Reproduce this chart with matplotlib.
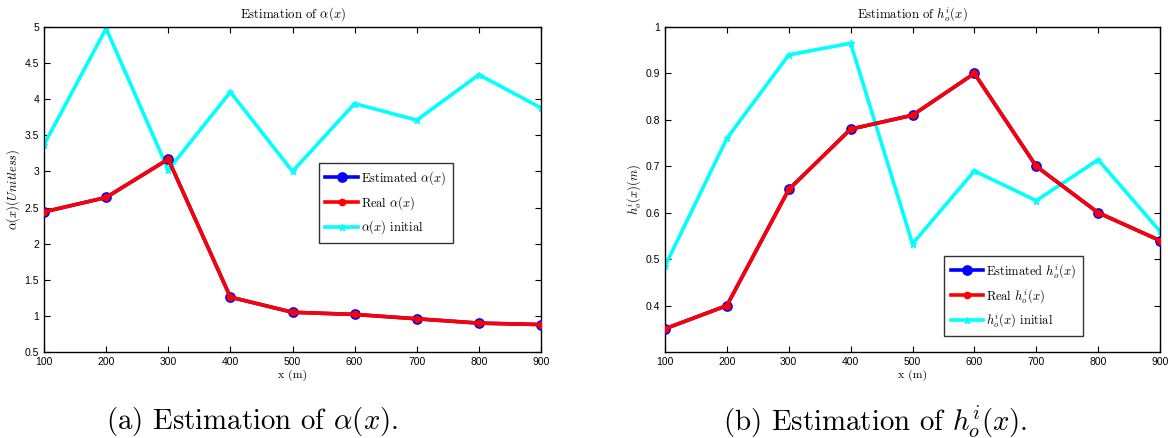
import matplotlib
matplotlib.use("Agg")
import matplotlib.pyplot as plt

plt.rcParams['mathtext.fontset'] = 'cm'
plt.rcParams['font.family'] = ['Liberation Sans', 'DejaVu Sans']

x = [100, 200, 300, 400, 500, 600, 700, 800, 900]
alpha_est = [2.44, 2.64, 3.17, 1.26, 1.05, 1.02, 0.96, 0.90, 0.88]
alpha_real = [2.44, 2.64, 3.17, 1.26, 1.05, 1.02, 0.96, 0.90, 0.88]
alpha_init = [3.37, 4.98, 3.02, 4.10, 3.00, 3.94, 3.71, 4.34, 3.88]

h_est = [0.35, 0.40, 0.65, 0.78, 0.81, 0.90, 0.70, 0.60, 0.54]
h_real = [0.35, 0.40, 0.65, 0.78, 0.81, 0.90, 0.70, 0.60, 0.54]
h_init = [0.485, 0.76, 0.94, 0.965, 0.533, 0.69, 0.626, 0.714, 0.56]

alpha_yticks = [0.5, 1, 1.5, 2, 2.5, 3, 3.5, 4, 4.5, 5]
alpha_yticklabels = ['0.5', '1', '1.5', '2', '2.5', '3', '3.5', '4', '4.5', '5']
h_yticks = [0.4, 0.5, 0.6, 0.7, 0.8, 0.9, 1.0]
h_yticklabels = ['0.4', '0.5', '0.6', '0.7', '0.8', '0.9', '1']

fig = plt.figure(figsize=(11.68, 4.38), dpi=100)
ax1 = fig.add_axes([44/1168, 1-352/438, 497/1168, 325/438])
ax2 = fig.add_axes([665/1168, 1-352/438, 495/1168, 325/438])

serif = 'cmr10'

def style(ax):
    ax.tick_params(direction='in', top=True, right=True, labelsize=7.5, length=4, width=0.8)
    for s in ax.spines.values():
        s.set_linewidth(1.0)
    ax.set_xlim(100, 900)
    ax.set_xticks(x)
    ax.set_xlabel('x (m)', fontfamily=serif, fontsize=8.5, labelpad=2)

leg_kw = dict(frameon=True, fancybox=False, edgecolor='black', borderpad=0.5, labelspacing=0.55,
              handlelength=2.6, handletextpad=0.25, prop={'family': serif, 'size': 9})

# Left
ax1.plot(x, alpha_est, color='blue', lw=2.6, marker='o', ms=6.5, mfc='blue', mec='blue', mew=1.2, zorder=3,
         label=r'Estimated $\alpha(x)$')
ax1.plot(x, alpha_real, color='red', lw=2.6, marker='o', ms=4.5, mfc='red', mec='red', zorder=4,
         label=r'Real $\alpha(x)$')
ax1.plot(x, alpha_init, color='cyan', lw=2.6, marker='*', ms=5, mfc='cyan', mec='cyan', zorder=2,
         label=r'$\alpha(x)$ initial')
style(ax1)
ax1.set_ylim(0.5, 5)
ax1.set_yticks(alpha_yticks)
ax1.set_yticklabels(alpha_yticklabels)
ax1.set_title(r'Estimation of $\alpha(x)$', fontfamily=serif, fontsize=9.2, pad=7)
ax1.set_ylabel(r'$\alpha(x)(Unitless)$', fontsize=9, labelpad=2)
leg1 = ax1.legend(loc='upper left', bbox_to_anchor=(0.541, 0.6), **leg_kw)
leg1.get_frame().set_linewidth(1.0)

# Right
ax2.plot(x, h_est, color='blue', lw=2.6, marker='o', ms=6.5, mfc='blue', mec='blue', mew=1.2, zorder=3,
         label=r'Estimated $h_o^i(x)$')
ax2.plot(x, h_real, color='red', lw=2.6, marker='o', ms=4.5, mfc='red', mec='red', zorder=4,
         label=r'Real $h_o^i(x)$')
ax2.plot(x, h_init, color='cyan', lw=2.6, marker='*', ms=5, mfc='cyan', mec='cyan', zorder=2,
         label=r'$h_o^i(x)$ initial')
style(ax2)
ax2.set_ylim(0.3, 1.0)
ax2.set_yticks(h_yticks)
ax2.set_yticklabels(h_yticklabels)
ax2.set_title(r'Estimation of $h_o^i(x)$', fontfamily=serif, fontsize=9.2, pad=7)
ax2.set_ylabel(r'$h_o^i(x)(m)$', fontsize=9, labelpad=2)
leg2 = ax2.legend(loc='lower left', bbox_to_anchor=(0.552, 0.031), **leg_kw)
leg2.get_frame().set_linewidth(1.0)

fig.text(252/1168, 1-422/438, r'(a) Estimation of $\alpha(x)$.', ha='center', va='center',
         fontfamily=serif, fontsize=20.8)
fig.text(875/1168, 1-422/438, r'(b) Estimation of $h_o^i(x)$.', ha='center', va='center',
         fontfamily=serif, fontsize=20.8)

fig.savefig('out.png', dpi=100)
